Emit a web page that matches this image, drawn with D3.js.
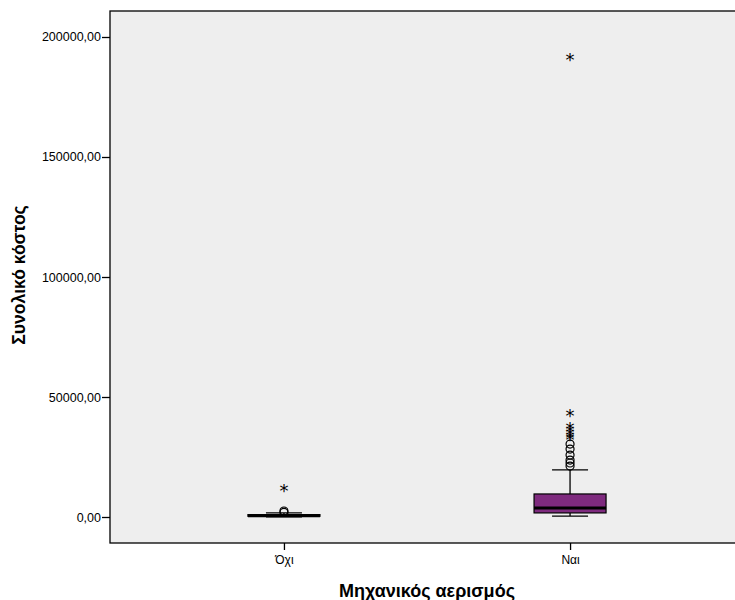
<!DOCTYPE html>
<html><head><meta charset="utf-8">
<script src="https://cdn.jsdelivr.net/npm/d3@7"></script>
<style>body{margin:0;background:#fff}svg{display:block}</style>
</head><body>
<script>
const categories = ["Όχι", "Ναι"];
const q1 = [300, 1700];
const median = [550, 3750];
const q3 = [1000, 9600];
const whiskerLow = [50, 400];
const whiskerHigh = [1700, 19600];
const outliersCircle = [[1900, 2500], [21200, 22500, 23700, 25800, 28300, 30400]];
const outliersStar = [[11700], [32900, 33700, 35000, 36200, 37500, 42900, 191300]];
const yTicks = [0, 50000, 100000, 150000, 200000];

const W = 735, H = 600;
const m = {left: 110, top: 11, right: 744, bottom: 543};
const svg = d3.select("body").append("svg").attr("width", W).attr("height", H);

const x = d3.scalePoint().domain(categories).range([m.left, m.right]).padding(0.608);
const y = d3.scaleLinear().domain([-10833, 210833]).range([m.bottom, m.top]);

svg.append("rect").attr("x", m.left).attr("y", m.top).attr("width", m.right - m.left).attr("height", m.bottom - m.top)
  .attr("fill", "#eeeeee").attr("stroke", "#000").attr("stroke-width", 1.3);

const font = "Liberation Sans, Arial, sans-serif";
const yAxis = svg.append("g").attr("transform", `translate(${m.left},0)`)
  .call(d3.axisLeft(y).tickValues(yTicks).tickSize(8).tickPadding(1)
    .tickFormat(d => d3.format(".2f")(d).replace(".", ",")));
yAxis.select(".domain").remove();
yAxis.selectAll("line").attr("stroke-width", 1.3);
yAxis.selectAll("text").attr("font-family", font).attr("font-size", 12.5).attr("fill", "#000");

const xAxis = svg.append("g").attr("transform", `translate(0,${m.bottom})`)
  .call(d3.axisBottom(x).tickSize(7).tickPadding(5));
xAxis.select(".domain").remove();
xAxis.selectAll("line").attr("stroke-width", 1.3);
xAxis.selectAll("text").attr("font-family", font).attr("font-size", 12).attr("fill", "#000");

const boxW = 72, capW = 36;
categories.forEach((c, i) => {
  const cx = x(c);
  const g = svg.append("g");
  g.append("line").attr("x1", cx).attr("x2", cx).attr("y1", y(q3[i])).attr("y2", y(whiskerHigh[i])).attr("stroke", "#000").attr("stroke-width", 1.3);
  g.append("line").attr("x1", cx).attr("x2", cx).attr("y1", y(q1[i])).attr("y2", y(whiskerLow[i])).attr("stroke", "#000").attr("stroke-width", 1.3);
  [whiskerHigh[i], whiskerLow[i]].forEach(v => {
    g.append("line").attr("x1", cx - capW / 2).attr("x2", cx + capW / 2).attr("y1", y(v)).attr("y2", y(v)).attr("stroke", "#000").attr("stroke-width", 1.3);
  });
  g.append("rect").attr("x", cx - boxW / 2).attr("width", boxW)
    .attr("y", y(q3[i])).attr("height", Math.max(1, y(q1[i]) - y(q3[i])))
    .attr("fill", "#7e2a7e").attr("stroke", "#000").attr("stroke-width", 1.2);
  g.append("line").attr("x1", cx - boxW / 2).attr("x2", cx + boxW / 2).attr("y1", y(median[i])).attr("y2", y(median[i])).attr("stroke", "#000").attr("stroke-width", 3);
  outliersCircle[i].forEach(v => {
    g.append("circle").attr("cx", cx).attr("cy", y(v)).attr("r", 4).attr("fill", "none").attr("stroke", "#000").attr("stroke-width", 1.2);
  });
  outliersStar[i].forEach(v => {
    g.append("text").attr("x", cx).attr("y", y(v) + 8).attr("text-anchor", "middle")
      .attr("font-family", "DejaVu Sans, sans-serif").attr("font-size", 18).attr("fill", "#000").text("*");
  });
});

svg.append("text").attr("x", 427).attr("y", 597).attr("text-anchor", "middle")
  .attr("font-family", font).attr("font-weight", "bold").attr("font-size", 18).attr("fill", "#000")
  .text("Μηχανικός αερισμός");
svg.append("text").attr("transform", "translate(25,275) rotate(-90)").attr("text-anchor", "middle")
  .attr("font-family", font).attr("font-weight", "bold").attr("font-size", 17.5).attr("fill", "#000")
  .text("Συνολικό κόστος");
</script>
</body></html>
